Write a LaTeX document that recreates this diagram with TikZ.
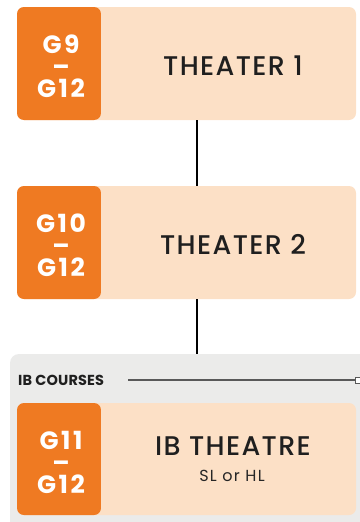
\documentclass[tikz,border=0pt]{standalone}
\usepackage{fontspec}
\setmainfont{Poppins}
\newfontfamily\titlefont{Poppins Medium}[LetterSpace=5]
\newfontfamily\gradefont{Poppins}[LetterSpace=10]
\newfontfamily\smallfont{Poppins}[LetterSpace=8]
\newfontfamily\headfont{Poppins}[LetterSpace=1]
\begin{document}
\begin{tikzpicture}[x=1pt,y=-1pt,
  grade/.style={text=white, inner sep=0, align=center, font=\gradefont\bfseries\fontsize{25}{22}\selectfont},
  title/.style={text=black!88, inner sep=0, font=\titlefont\fontsize{27}{29}\selectfont},
  conn/.style={line width=2.2pt, black}]
\definecolor{peach}{HTML}{FCE0C6}
\definecolor{orng}{HTML}{EF7A22}
\definecolor{grp}{HTML}{EBEBEA}
\useasboundingbox (0,0) rectangle (359,522);
% group box
\fill[grp, rounded corners=9pt] (10,354) rectangle (375,530);
\coordinate (grptop) at (197,354);
\node[anchor=west, inner sep=0, text=black!88, font=\headfont\bfseries\fontsize{14.5}{16}\selectfont] (ibc) at (18,380) {IB COURSES};
\coordinate (lineA) at (128,380);
\coordinate (lineB) at (355,380);
\draw[line width=1.2pt, black!65] (lineA) -- (lineB);
\draw[line width=0.9pt, black!65, fill=white] (355,377) rectangle (361,383);
% cards
\foreach \t/\b in {7/120, 186/299, 403/515}{
  \fill[peach, rounded corners=7pt] (17,\t) rectangle (356,\b);
  \fill[orng, rounded corners=7pt] (17,\t) rectangle (101,\b);
  \fill[peach] (101,\t) rectangle (110,\b);
}
\coordinate (c1bot) at (197,120);
\coordinate (c2top) at (197,186);
\coordinate (c2bot) at (197,299);
% grade labels
\node[grade] (g1) at (61,66.5) {G9\\–\\G12};
\node[grade] (g2) at (61,245.5) {G10\\–\\G12};
\node[grade] (g3) at (61,462.5) {G11\\–\\G12};
% titles
\node[title] (t1) at (233,65.5) {THEATER 1};
\node[title] (t2) at (233,244) {THEATER 2};
\node[title] (t3) at (233,446.5) {IB THEATRE};
\node[text=black!85, inner sep=0, font=\smallfont\fontsize{16}{17}\selectfont] (t3s) at (232,475.5) {SL or HL};
\draw[conn] (c1bot) -- (c2top);
\draw[conn] (c2bot) -- (grptop);
\end{tikzpicture}
\end{document}
